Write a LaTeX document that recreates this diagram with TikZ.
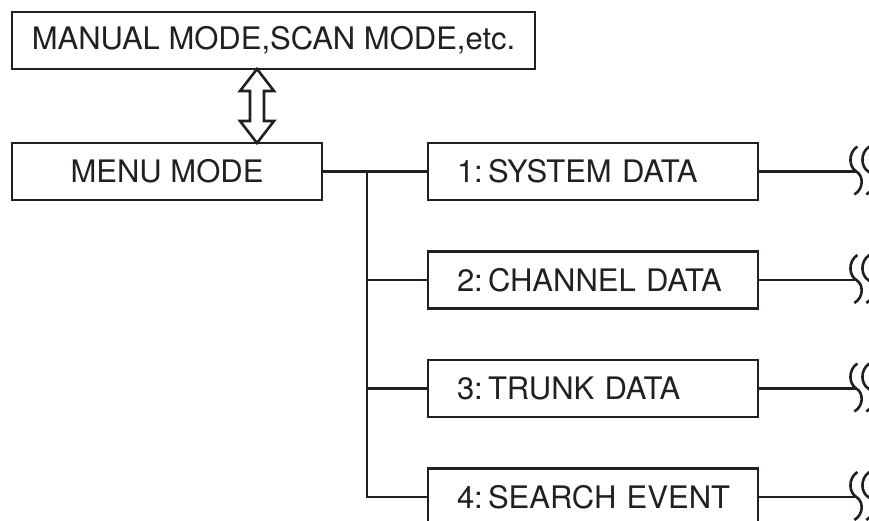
\documentclass[tikz,border=0pt]{standalone}
\usepackage{fontspec}
\setmainfont{TeX Gyre Heros}
\usetikzlibrary{arrows,positioning}
\definecolor{ink}{HTML}{231F20}
\tikzset{
  box/.style={draw=ink,line width=2.6pt,minimum height=57pt,inner sep=0pt,text=ink},
  databox/.style={box,text width=272pt,inner xsep=29pt,align=left},
  wire/.style={draw=ink,line width=2.6pt},
  breakmark/.pic={
    \draw[wire] (1,25) .. controls (-9,18) and (-7,4) .. (0,0)
                .. controls (7,-4) and (8,-17) .. (-2,-23);
    \draw[wire] (13,25) .. controls (3,18) and (5,4) .. (12,0)
                .. controls (19,-4) and (20,-17) .. (10,-23);
  }
}
\begin{document}
\begin{tikzpicture}[x=1pt,y=1pt,node distance=108.5pt,
    every node/.style={font=\fontsize{31}{37}\selectfont}]
            \useasboundingbox (0,0) rectangle (869,-520);
            \clip (0,0) rectangle (869,-520);
            \node   [box,minimum width=523pt]    at (273.5,-40.5)   (top)  {MANUAL MODE,SCAN MODE,etc.};
            \node   [box,minimum width=310pt]    at (167,-171.5)    (menu) {MENU MODE};
            \node   [databox]                    at (593,-171.5)    (d1)   {\mbox{1:\,SYSTEM DATA}};
            \node   [databox]   [below of=d1]                       (d2)   {\mbox{2:\,CHANNEL\,\,DATA}};
            \node   [databox]   [below of=d2]                       (d3)   {\mbox{3:\,TRUNK DATA}};
            \node   [databox]   [below of=d3]                       (d4)   {\mbox{4:\,SEARCH EVENT}};

            % hollow up/down arrow between the two modes
            \coordinate (ud) at (257,-69);
            \draw   [wire] (ud) -- ++(-17,-22) -- ++(10,0) -- ++(0,-30) -- ++(-10,0) -- ++(17,-22)
                    -- ++(17,22) -- ++(-10,0) -- ++(0,30) -- ++(10,0) -- cycle;

            % tree of the menu items
            \coordinate (jn) at (367,-171.5);
            \draw   [wire] (menu) -- (d1);
            \draw   [wire] (jn) |- (d4.west);
            \foreach \i in {2,3}
                \draw   [wire] (jn |- d\i.west) -- (d\i.west);
            \foreach \i in {1,...,4} {
                \path   (d\i.east) -- ++(97,0) coordinate (e\i);
                \draw   [wire] (d\i.east) -- (e\i);
                \pic at (e\i) {breakmark};
            }
        \end{tikzpicture}
\end{document}
